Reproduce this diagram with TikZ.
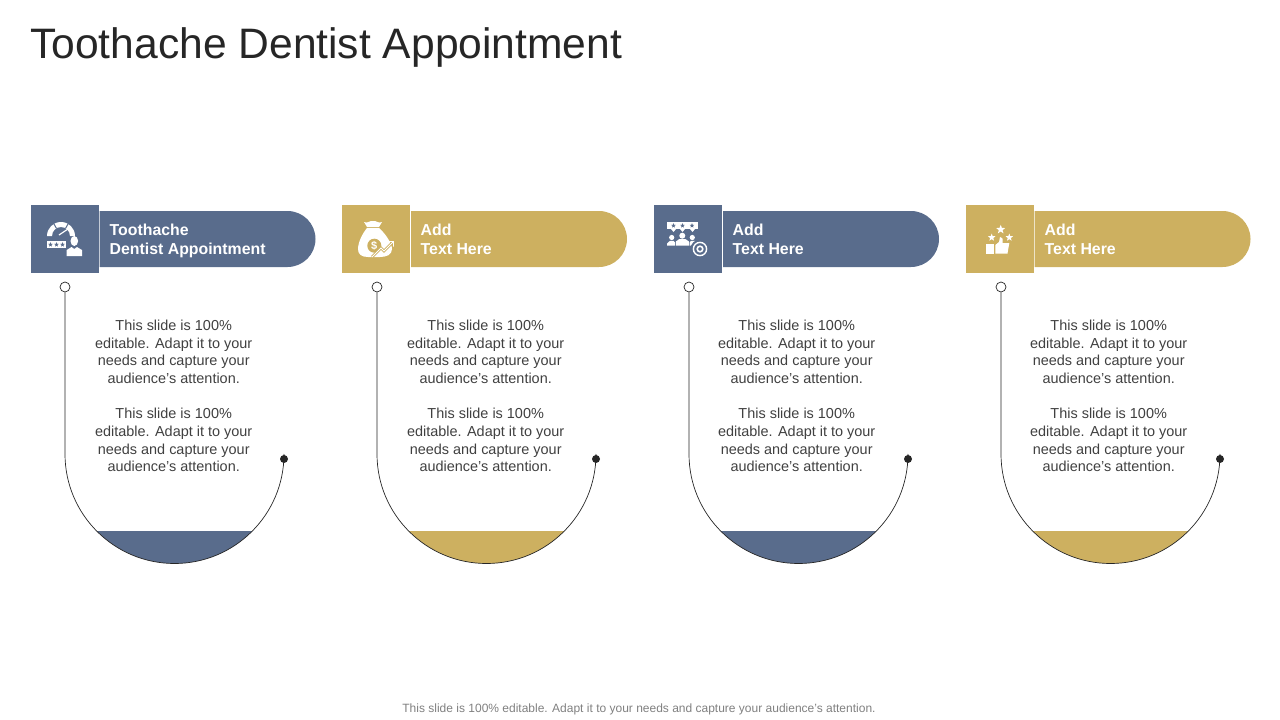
\documentclass[tikz,border=0pt]{standalone}
\usepackage{fontspec}
\setmainfont{Liberation Sans}
\usepackage{tikz}
\usetikzlibrary{shapes.geometric,shapes.misc}
\definecolor{slate}{RGB}{89,108,140}
\definecolor{sand}{RGB}{205,176,96}
\definecolor{ink}{RGB}{64,64,64}

\begin{document}
\begin{tikzpicture}[
    x=1pt,y=-1pt,
    box/.style={minimum width=68pt,minimum height=68pt,inner sep=0pt},
    pill/.style={rounded rectangle,rounded rectangle left arc=none,minimum width=216pt,minimum height=56pt,inner sep=0pt},
    headtext/.style={anchor=west,align=left,text=white,inner sep=0pt,font=\fontsize{15.85}{19}\selectfont\bfseries},
    bodytext/.style={align=center,text=ink,inner sep=0pt,font=\fontsize{14.45}{17.62}\selectfont},
    ring/.style={draw=black!85,fill=white,circle,line width=.7pt,minimum size=10pt,inner sep=0pt},
    dot/.style={fill=black!85,circle,minimum size=8pt,inner sep=0pt},
    curve/.style={black!85,line width=.7pt},
    iconstar/.style={star,star points=5,star point ratio=2.4,inner sep=0pt,minimum size=#1},
    ]
    \useasboundingbox (0,0) rectangle (1280,720);
    \node[anchor=west,inner sep=0pt,text=black!85,font=\fontsize{42.6}{50}\selectfont] (title) at (30,47.5) {Toothache Dentist Appointment};

    % first column
    \node[box,fill=slate] (box1) at (65,239) {};
    \node[pill,fill=slate] (pill1) at (207.5,239) {};
    \node[headtext] (head1) at (109.5,241) {Toothache\\Dentist Appointment};
    \node[bodytext] (text1) at (173.7,396) {This slide is 100\%\\editable. Adapt it to your\\needs and capture your\\audience's attention.\\[17.62pt]This slide is 100\%\\editable. Adapt it to your\\needs and capture your\\audience's attention.};
    \fill[slate] (96.7,531) arc[start angle=135.3,end angle=44.7,radius=109.5] -- cycle;
    \node[ring] (open1) at (65,287) {};
    \node[dot] (end1) at (284,459) {};
    \draw[curve] (open1) -- (65,454) arc[start angle=180,end angle=0,radius=109.5] -- (end1);
    % gauge and person
    \fill[white] (47,236) arc[start angle=180,end angle=360,radius=14] -- (70,236) arc[start angle=360,end angle=180,radius=9] -- cycle;
    \draw[slate,line width=1pt] (54,224) -- (56.5,228.5);
    \draw[slate,line width=1pt] (68,224) -- (65.5,228.5);
    \draw[white,line width=1.2pt] (59,235) -- (68,229);
    \fill[white] (47,241) rectangle (66,248);
    \node[iconstar=5pt,fill=slate] (star1a) at (50.5,244.6) {};
    \node[iconstar=5pt,fill=slate] (star1b) at (56.5,244.6) {};
    \node[iconstar=5pt,fill=slate] (star1c) at (62.5,244.6) {};
    \fill[white] (74.3,241) ellipse[x radius=3.8,y radius=5];
    \fill[white] (66.7,256) -- (66.7,250) -- (71.5,247) -- (74.3,249) -- (77,247) -- (82,250) -- (82,256) -- cycle;

    % second column
    \node[box,fill=sand] (box2) at (376,239) {};
    \node[pill,fill=sand] (pill2) at (519,239) {};
    \node[headtext] (head2) at (420.5,239) {Add\\Text Here};
    \node[bodytext] (text2) at (485.7,396) {This slide is 100\%\\editable. Adapt it to your\\needs and capture your\\audience's attention.\\[17.62pt]This slide is 100\%\\editable. Adapt it to your\\needs and capture your\\audience's attention.};
    \fill[sand] (408.7,531) arc[start angle=135.3,end angle=44.7,radius=109.5] -- cycle;
    \node[ring] (open2) at (377,287) {};
    \node[dot] (end2) at (596,459) {};
    \draw[curve] (open2) -- (377,454) arc[start angle=180,end angle=0,radius=109.5] -- (end2);
    % money bag
    \fill[white] (364,222) .. controls (368,224) and (370,220) .. (373,221) .. controls (376,220) and (378,224) .. (382,222) -- (379,227) -- (367,227) -- cycle;
    \fill[white] (367,228) -- (379,228) .. controls (386,234) and (392,244) .. (392,249) .. controls (392,255) and (386,257) .. (380,257) -- (368,257) .. controls (361,257) and (358,254) .. (358,249) .. controls (358,243) and (362,234) .. (367,228) -- cycle;
    \fill[sand] (374.3,245.7) circle[radius=7];
    \node[inner sep=0pt,text=white,font=\fontsize{11}{11}\selectfont\bfseries] (coin2) at (374.3,245.7) {\$};
    \draw[sand,line width=2.6pt] (372,257) -- (381,248) -- (384,251) -- (393,242);
    \draw[white,line width=.8pt] (372,257) -- (381,248) -- (384,251) -- (393,242) (388.5,241.5) -- (393.5,241.5) -- (393.5,246.5);

    % third column
    \node[box,fill=slate] (box3) at (688,239) {};
    \node[pill,fill=slate] (pill3) at (831,239) {};
    \node[headtext] (head3) at (732.5,239) {Add\\Text Here};
    \node[bodytext] (text3) at (796.7,396) {This slide is 100\%\\editable. Adapt it to your\\needs and capture your\\audience's attention.\\[17.62pt]This slide is 100\%\\editable. Adapt it to your\\needs and capture your\\audience's attention.};
    \fill[slate] (720.7,531) arc[start angle=135.3,end angle=44.7,radius=109.5] -- cycle;
    \node[ring] (open3) at (689,287) {};
    \node[dot] (end3) at (908,459) {};
    \draw[curve] (open3) -- (689,454) arc[start angle=180,end angle=0,radius=109.5] -- (end3);
    % banner, people and gear
    \fill[white] (667,222) rectangle (698,229);
    \fill[white] (671,229) -- (676,229) -- (673.5,232) -- cycle;
    \fill[white] (680,229) -- (685,229) -- (682.5,232) -- cycle;
    \fill[white] (690,229) -- (695,229) -- (692.5,232) -- cycle;
    \node[iconstar=5pt,fill=slate] (star3a) at (673.5,225.6) {};
    \node[iconstar=5pt,fill=slate] (star3b) at (682.5,225.6) {};
    \node[iconstar=5pt,fill=slate] (star3c) at (692,225.6) {};
    \fill[white] (682.3,235.7) circle[radius=3];
    \fill[white] (671.7,237.5) circle[radius=2.6];
    \fill[white] (692.3,237.5) circle[radius=2.6];
    \fill[white] (667,245.5) -- (667,243.5) -- (670,240.8) -- (673.5,240.8) -- (675,242.5) -- (675,245.5) -- cycle;
    \fill[white] (689.7,245.5) -- (689.7,242.5) -- (691,240.8) -- (695,240.8) -- (697,242) -- (697,245.5) -- cycle;
    \fill[white] (675.9,245.5) -- (675.9,241.5) -- (679,239.2) -- (685.6,239.2) -- (688.9,241.5) -- (688.9,245.5) -- cycle;
    \fill[slate] (700,249) circle[radius=9.5];
    \draw[white,line width=1.4pt] (700,249) circle[radius=6.6];
    \draw[white,line width=1.6pt] (700,249) circle[radius=2.8];

    % fourth column
    \node[box,fill=sand] (box4) at (1000,239) {};
    \node[pill,fill=sand] (pill4) at (1142.5,239) {};
    \node[headtext] (head4) at (1044.5,239) {Add\\Text Here};
    \node[bodytext] (text4) at (1108.7,396) {This slide is 100\%\\editable. Adapt it to your\\needs and capture your\\audience's attention.\\[17.62pt]This slide is 100\%\\editable. Adapt it to your\\needs and capture your\\audience's attention.};
    \fill[sand] (1032.7,531) arc[start angle=135.3,end angle=44.7,radius=109.5] -- cycle;
    \node[ring] (open4) at (1001,287) {};
    \node[dot] (end4) at (1220,459) {};
    \draw[curve] (open4) -- (1001,454) arc[start angle=180,end angle=0,radius=109.5] -- (end4);
    % thumb and stars
    \node[iconstar=9.5pt,fill=white] (star4a) at (1000.7,229.5) {};
    \node[iconstar=8pt,fill=white] (star4b) at (991.7,237.5) {};
    \node[iconstar=8pt,fill=white] (star4c) at (1009.3,237.5) {};
    \fill[white] (986,243.5) rectangle (994,253.5);
    \fill[white] (995.3,245) -- (999,242) -- (1000,237) .. controls (1002.5,236.5) and (1003,239) .. (1002.5,243) -- (1009.3,243) -- (1007.5,253.5) -- (995.3,253.5) -- cycle;

    \node[inner sep=0pt,text=black!50,font=\fontsize{12}{14}\selectfont] (foot) at (639,709) {This slide is 100\% editable. Adapt it to your needs and capture your audience's attention.};
  \end{tikzpicture}
\end{document}
